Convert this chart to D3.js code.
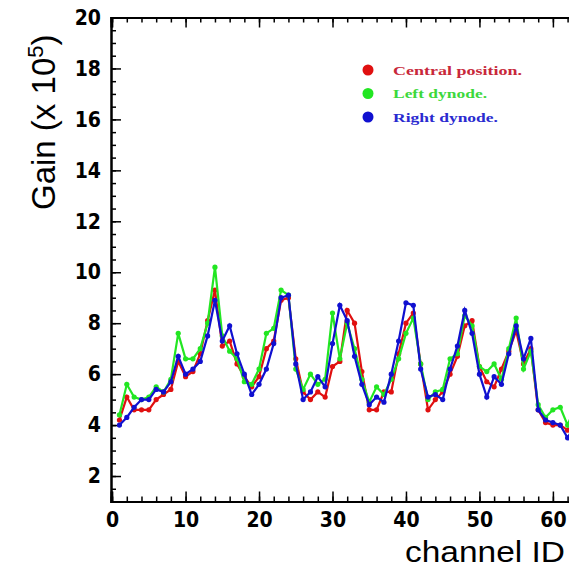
<!DOCTYPE html>
<html>
<head>
<meta charset="utf-8">
<script src="https://cdn.jsdelivr.net/npm/d3@7"></script>
<style>
  html, body { margin: 0; padding: 0; background: #fff; overflow: hidden; }
  svg { display: block; }
</style>
</head>
<body>
<script>
// gain per channel (channels 1..64)
var channels = d3.range(1, 65);
var central = [4.2, 5.1, 4.6, 4.6, 4.6, 5.0, 5.2, 5.4, 6.5, 5.9,
               6.1, 6.8, 8.1, 9.3, 7.1, 7.3, 6.4, 5.9, 5.5, 5.9,
               7.0, 7.3, 8.9, 9.0, 6.6, 5.3, 5.0, 5.3, 5.1, 6.3,
               6.5, 8.5, 8.0, 6.1, 4.6, 4.6, 5.3, 5.3, 6.8, 8.0,
               8.4, 6.4, 4.6, 5.0, 5.3, 6.0, 6.7, 7.9, 8.1, 6.3,
               5.7, 5.5, 6.2, 6.9, 7.7, 6.4, 7.0, 4.6, 4.1, 4.0,
               4.0, 3.8, 4.1, 4.3];
var left = [4.4, 5.6, 5.1, 5.0, 5.1, 5.5, 5.3, 5.8, 7.6, 6.6,
            6.6, 7.0, 8.0, 10.2, 7.5, 6.9, 6.6, 5.7, 5.6, 6.2,
            7.6, 7.8, 9.3, 9.1, 6.2, 5.4, 6.0, 5.6, 5.8, 8.4,
            6.6, 8.0, 7.0, 5.8, 4.9, 5.5, 5.2, 5.8, 6.6, 7.6,
            8.2, 6.4, 5.0, 5.3, 5.4, 6.6, 6.8, 8.3, 7.9, 6.3,
            6.1, 6.4, 5.8, 7.0, 8.2, 6.2, 6.9, 4.8, 4.3, 4.6,
            4.7, 4.0, 4.7, 4.6];
var right = [4.0, 4.3, 4.7, 5.0, 5.0, 5.4, 5.3, 5.7, 6.7, 6.0,
             6.2, 6.5, 7.5, 8.9, 7.3, 7.9, 6.8, 6.0, 5.2, 5.6,
             6.2, 7.2, 9.0, 9.1, 6.4, 5.0, 5.3, 5.9, 5.5, 7.2,
             8.7, 8.1, 6.7, 5.6, 4.8, 5.1, 4.9, 6.0, 7.3, 8.8,
             8.7, 6.2, 5.1, 5.2, 5.0, 6.2, 7.1, 8.5, 7.6, 6.0,
             5.1, 5.9, 5.6, 6.8, 7.9, 6.6, 7.4, 4.6, 4.2, 4.1,
             4.0, 3.5, 4.0, 4.3];

var seriesNames = ["Central position.", "Left dynode.", "Right dynode."];
var seriesColors = ["#e01010", "#22e622", "#1010d0"];
var textColors = ["#c8283a", "#3cd83c", "#2a2ad0"];
var seriesValues = [central, left, right];

var yMajor = d3.range(2, 20.01, 2);
var yMinor = d3.range(1, 20.01, 0.5);
var xMajor = d3.range(0, 61, 10);
var xMinor = d3.range(0, 63, 2);

var width = 569, height = 567;

var svg = d3.select("body").append("svg")
  .attr("width", width)
  .attr("height", height);

var x = d3.scaleLinear().domain([-0.15, 62.6]).range([111, 572]);
var y = d3.scaleLinear().domain([1, 20]).range([501.5, 17.5]);

var tickFont = "'Liberation Sans Narrow', 'Arial Narrow', 'DejaVu Sans Condensed', sans-serif";

function styleAxis(g) {
  g.select(".domain").attr("stroke", "#000").attr("stroke-width", 2);
  g.selectAll(".tick line").attr("stroke", "#000").attr("stroke-width", 1.5);
  g.selectAll(".tick text")
    .attr("fill", "#000")
    .style("font-family", tickFont)
    .style("font-weight", "bold")
    .style("font-size", "21px");
}

// minor ticks
svg.append("g")
  .attr("transform", "translate(111,0)")
  .call(d3.axisLeft(y).tickValues(yMinor).tickSize(-5).tickFormat(""))
  .call(styleAxis);
svg.append("g")
  .attr("transform", "translate(0," + y(1) + ")")
  .call(d3.axisBottom(x).tickValues(xMinor).tickSize(-5).tickFormat(""))
  .call(styleAxis);
svg.append("g")
  .attr("transform", "translate(0," + y(20) + ")")
  .call(d3.axisTop(x).tickValues(xMinor).tickSize(-5).tickFormat(""))
  .call(styleAxis);

// major ticks
svg.append("g")
  .attr("transform", "translate(111,0)")
  .call(d3.axisLeft(y).tickValues(yMajor).tickSize(-10).tickPadding(10).tickFormat(d3.format("d")))
  .call(styleAxis);
svg.append("g")
  .attr("transform", "translate(0," + y(1) + ")")
  .call(d3.axisBottom(x).tickValues(xMajor).tickSize(-10).tickPadding(11).tickFormat(d3.format("d")))
  .call(styleAxis);
svg.append("g")
  .attr("transform", "translate(0," + y(20) + ")")
  .call(d3.axisTop(x).tickValues(xMajor).tickSize(-10).tickFormat(""))
  .call(styleAxis);

// series
var line = d3.line()
  .x(function(d, i) { return x(channels[i]); })
  .y(function(d) { return y(d); });

seriesValues.forEach(function(vals, k) {
  var g = svg.append("g");
  g.append("path")
    .datum(vals)
    .attr("fill", "none")
    .attr("stroke", seriesColors[k])
    .attr("stroke-width", 2.2)
    .attr("d", line);
  g.selectAll("circle")
    .data(vals)
    .join("circle")
    .attr("cx", function(d, i) { return x(channels[i]); })
    .attr("cy", function(d) { return y(d); })
    .attr("r", 2.6)
    .attr("fill", seriesColors[k]);
});

// legend
var legendLen = [129, 94, 105];
var legend = svg.append("g");
seriesNames.forEach(function(name, k) {
  legend.append("circle")
    .attr("cx", 368)
    .attr("cy", 70 + k * 23.5)
    .attr("r", 5.5)
    .attr("fill", seriesColors[k]);
  legend.append("text")
    .attr("x", 393)
    .attr("y", 74.5 + k * 23.5)
    .attr("fill", textColors[k])
    .attr("textLength", legendLen[k])
    .attr("lengthAdjust", "spacingAndGlyphs")
    .style("font-family", "'Liberation Serif', 'Times New Roman', serif")
    .style("font-weight", "bold")
    .style("font-size", "13px")
    .text(name);
});

// axis titles
var yt = svg.append("text")
  .attr("transform", "translate(55,210) rotate(-90)")
  .attr("text-anchor", "start")
  .style("font-family", "'Liberation Sans', Arial, sans-serif")
  .style("font-size", "33px")
  .attr("fill", "#000");
yt.append("tspan").text("Gain (x 10");
yt.append("tspan").attr("dy", -12).style("font-size", "22px").text("5");
yt.append("tspan").attr("dy", 12).text(")");

// kept just inside the right edge
svg.append("text")
  .attr("x", 405)
  .attr("y", 562)
  .attr("textLength", 160)
  .attr("lengthAdjust", "spacingAndGlyphs")
  .style("font-family", "'Liberation Sans', Arial, sans-serif")
  .style("font-size", "30px")
  .attr("fill", "#000")
  .text("channel ID");
</script>
</body>
</html>
